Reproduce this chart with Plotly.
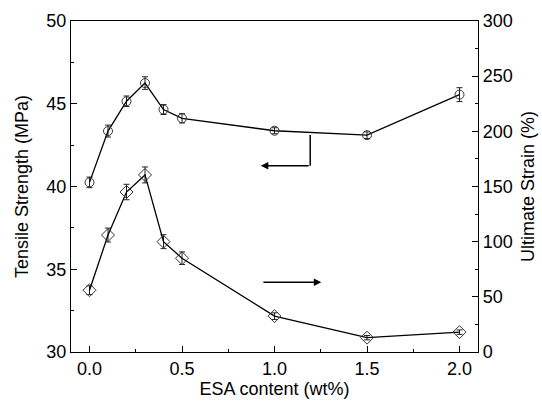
import plotly.graph_objects as go

esa = [0.0, 0.1, 0.2, 0.3, 0.4, 0.5, 1.0, 1.5, 2.0]
tensile = [40.25, 43.35, 45.15, 46.25, 44.65, 44.12, 43.37, 43.1, 45.55]
tensile_err = [0.32, 0.36, 0.32, 0.38, 0.3, 0.28, 0.18, 0.2, 0.42]
strain = [56, 106, 145, 160.5, 100, 85, 32.5, 13, 18]
strain_err = [4, 6.3, 7, 7.2, 6.3, 5.7, 3, 2, 2]

# arrow guides (data coordinates)
left_arrow_x = [1.193, 1.193, 0.926]
left_arrow_y = [43.11, 41.26, 41.26]
right_arrow_x = [0.932, 1.253]
right_arrow_y = [34.21, 34.21]

FONT = "Liberation Sans, Arial, sans-serif"
FS = 18

fig = go.Figure()
fig.add_trace(go.Scatter(
    x=esa, y=tensile, mode="lines+markers",
    line=dict(color="black", width=1.3),
    marker=dict(symbol="circle-open", size=9, color="#333333", line=dict(width=1)),
    error_y=dict(type="data", array=tensile_err, visible=True, color="#222222", thickness=1, width=3),
    showlegend=False, yaxis="y"))
fig.add_trace(go.Scatter(
    x=esa, y=strain, mode="lines+markers",
    line=dict(color="black", width=1.3),
    marker=dict(symbol="diamond-open", size=10, color="#333333", line=dict(width=1)),
    error_y=dict(type="data", array=strain_err, visible=True, color="#222222", thickness=1, width=3),
    showlegend=False, yaxis="y2"))

# left arrow: vertical segment then horizontal arrow
fig.add_shape(type="line", xref="x", yref="y",
              x0=left_arrow_x[0], y0=left_arrow_y[0], x1=left_arrow_x[1], y1=left_arrow_y[1],
              line=dict(color="black", width=1.5))
fig.add_annotation(x=left_arrow_x[2], y=left_arrow_y[2], ax=left_arrow_x[1], ay=left_arrow_y[1],
                   xref="x", yref="y", axref="x", ayref="y", text="", showarrow=True,
                   arrowhead=2, arrowsize=1, arrowwidth=1.5, arrowcolor="black")
fig.add_annotation(x=right_arrow_x[1], y=right_arrow_y[1], ax=right_arrow_x[0], ay=right_arrow_y[0],
                   xref="x", yref="y", axref="x", ayref="y", text="", showarrow=True,
                   arrowhead=2, arrowsize=1, arrowwidth=1.5, arrowcolor="black")

axis_common = dict(showline=True, linecolor="black", linewidth=1.3, ticks="inside",
                   ticklen=6, tickwidth=1, tickcolor="black", showgrid=False, zeroline=False,
                   automargin=False,
                   tickfont=dict(family=FONT, size=FS, color="black"))

fig.update_layout(
    width=542, height=405,
    margin=dict(l=71, r=64, t=21, b=53),
    paper_bgcolor="white", plot_bgcolor="white",
    font=dict(family=FONT, size=FS, color="black"),
    xaxis=dict(range=[-0.1, 2.1], dtick=0.5, tick0=0, tickformat=".1f", mirror=True,
               minor=dict(dtick=0.25, ticks="inside", ticklen=3, tickcolor="black"),
               title=dict(text="ESA content (wt%)", font=dict(family=FONT, size=FS), standoff=2),
               **axis_common),
    yaxis=dict(range=[30, 50], dtick=5, tick0=30,
               minor=dict(dtick=2.5, ticks="inside", ticklen=3, tickcolor="black"),
               title=dict(text="Tensile Strength (MPa)", font=dict(family=FONT, size=FS), standoff=12),
               **axis_common),
    yaxis2=dict(range=[0, 300], dtick=50, tick0=0, overlaying="y", side="right",
                minor=dict(dtick=25, ticks="inside", ticklen=3, tickcolor="black"),
                title=dict(text="Ultimate Strain (%)", font=dict(family=FONT, size=FS), standoff=9),
                **axis_common),
)

fig.write_html("out.html")
